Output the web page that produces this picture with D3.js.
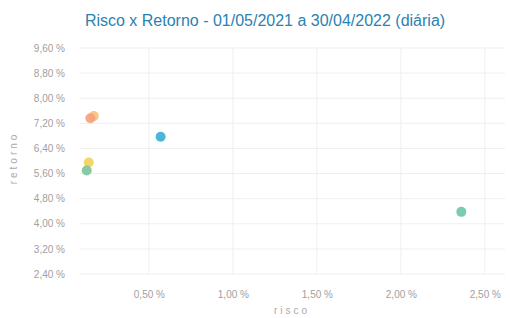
<!DOCTYPE html>
<html>
<head>
<meta charset="utf-8">
<script src="https://cdn.jsdelivr.net/npm/d3@7"></script>
<style>
  body { margin: 0; background: #fff; }
  text { font-family: "Liberation Sans", Arial, sans-serif; }
</style>
</head>
<body>
<div id="vis"></div>
<script>
(function() {
    var width = 510, height = 318;

    // data (risco %, retorno %)
    var names = ["A", "B", "C", "D", "E", "F"];
    var risco = [0.172, 0.152, 0.57, 0.142, 0.13, 2.36];
    var retorno = [7.43, 7.36, 6.77, 5.95, 5.70, 4.38];
    var pointColors = ["#f9c07a", "#f4a07a", "#3aaed0", "#f2d25a", "#7cc49a", "#6cc6a6"];

    var yTicks = [2.4, 3.2, 4.0, 4.8, 5.6, 6.4, 7.2, 8.0, 8.8, 9.6];
    var xTicks = [0.5, 1.0, 1.5, 2.0, 2.5];

    var margin = { top: 48, right: 5, bottom: 44, left: 80 };

    var svg = d3.select("#vis")
        .append("svg")
        .attr("width", width)
        .attr("height", height);

    var x = d3.scaleLinear().domain([0.09, 2.62]).range([margin.left, width - margin.right]);
    var y = d3.scaleLinear().domain([2.4, 9.6]).range([height - margin.bottom, margin.top]);

    function fmt(v) { return v.toFixed(2).replace(".", ",") + " %"; }

    // grid
    svg.append("g")
        .selectAll("line")
        .data(yTicks)
        .enter().append("line")
        .attr("x1", margin.left)
        .attr("x2", width - margin.right)
        .attr("y1", function(d) { return y(d); })
        .attr("y2", function(d) { return y(d); })
        .style("stroke", "#efefef")
        .style("stroke-width", 1);

    svg.append("g")
        .selectAll("line")
        .data(xTicks)
        .enter().append("line")
        .attr("x1", function(d) { return x(d); })
        .attr("x2", function(d) { return x(d); })
        .attr("y1", margin.top)
        .attr("y2", height - margin.bottom)
        .style("stroke", "#efefef")
        .style("stroke-width", 1);

    // axes
    var yAxis = svg.append("g")
        .attr("transform", "translate(" + (margin.left - 12) + ",0)")
        .call(d3.axisLeft(y).tickValues(yTicks).tickFormat(fmt).tickSize(0));
    yAxis.select(".domain").remove();
    yAxis.selectAll("text")
        .style("font-size", "10px")
        .style("fill", "#a0a0a0");

    var xAxis = svg.append("g")
        .attr("transform", "translate(0," + (height - margin.bottom + 14) + ")")
        .call(d3.axisBottom(x).tickValues(xTicks).tickFormat(fmt).tickSize(0));
    xAxis.select(".domain").remove();
    xAxis.selectAll("text")
        .style("font-size", "10px")
        .style("fill", "#a0a0a0");

    // titles
    svg.append("text")
        .attr("x", 265)
        .attr("y", 26)
        .attr("text-anchor", "middle")
        .style("font-size", "16px")
        .style("fill", "#2a82b0")
        .text("Risco x Retorno - 01/05/2021 a 30/04/2022 (diária)");

    svg.append("text")
        .attr("transform", "translate(17,158) rotate(-90)")
        .attr("text-anchor", "middle")
        .style("font-size", "10px")
        .style("letter-spacing", "3px")
        .style("fill", "#aaa")
        .text("retorno");

    svg.append("text")
        .attr("x", 292)
        .attr("y", 314)
        .attr("text-anchor", "middle")
        .style("font-size", "10px")
        .style("letter-spacing", "3px")
        .style("fill", "#aaa")
        .text("risco");

    // points
    svg.append("g")
        .selectAll("circle")
        .data(names)
        .enter().append("circle")
        .attr("cx", function(d, i) { return x(risco[i]); })
        .attr("cy", function(d, i) { return y(retorno[i]); })
        .attr("r", 5)
        .attr("fill", function(d, i) { return pointColors[i]; })
        .style("opacity", 0.9);
}) ();
</script>
</body>
</html>
